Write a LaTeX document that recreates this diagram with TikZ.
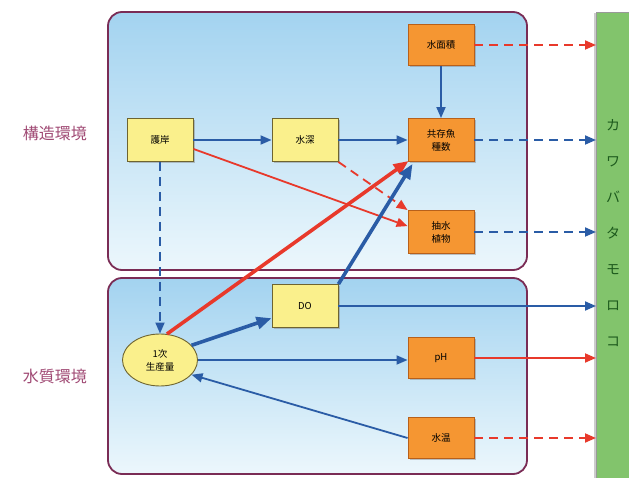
\documentclass[tikz,border=0pt]{standalone}
\usepackage{fontspec}
\setmainfont{Noto Sans CJK JP}
\usetikzlibrary{arrows.meta,shadows,shapes.geometric}

\definecolor{panelline}{HTML}{7A2C55}
\definecolor{paneltop}{HTML}{A3D3F0}
\definecolor{panelbot}{HTML}{ECF7FC}
\definecolor{boxorange}{HTML}{F59632}
\definecolor{lineorange}{HTML}{B8601A}
\definecolor{boxyellow}{HTML}{FAF08C}
\definecolor{lineyellow}{HTML}{6E6430}
\definecolor{arrblue}{HTML}{2A5CA6}
\definecolor{arrred}{HTML}{E8392B}
\definecolor{bargreen}{HTML}{82C46C}
\definecolor{bartext}{HTML}{1D5A1D}
\definecolor{labelpink}{HTML}{A04A74}

\tikzset{
  panel/.style={draw=panelline, line width=1.8pt, rounded corners=14pt,
    top color=paneltop, bottom color=panelbot},
  orangebox/.style={draw=lineorange, fill=boxorange, line width=0.9pt,
    minimum width=66pt, minimum height=43pt, align=center, font=\fontsize{9.5}{13}\selectfont,
    drop shadow={shadow xshift=1.5pt, shadow yshift=-1.5pt, opacity=0.45}},
  yellowbox/.style={orangebox, draw=lineyellow, fill=boxyellow},
  blueline/.style={draw=arrblue, line width=1.8pt, -{Triangle[length=11pt,width=9pt]}},
  redline/.style={draw=arrred, line width=1.8pt, -{Triangle[length=11pt,width=9pt]}},
  thick line/.style={line width=3.6pt, -{Triangle[length=15pt,width=12pt]}},
  dashline/.style={dash pattern=on 9pt off 6pt},
  sectlabel/.style={text=labelpink, font=\fontsize{16}{16}\selectfont}
}

\begin{document}
\begin{tikzpicture}[x=1pt,y=-1pt]
  \useasboundingbox (0,0) rectangle (629,478);

  % panels
  \path[panel] (108,12) rectangle (527,270);
  \path[panel] (108,278) rectangle (527,474);
  \node[sectlabel] (kozo) at (55,133) {構造環境};
  \node[sectlabel] (suishitsu) at (55,376) {水質環境};

  % species bar
  \node[draw=black!40, fill=bargreen, minimum width=33pt, minimum height=466pt,
    inner sep=0pt, drop shadow={shadow xshift=-2pt, shadow yshift=-1pt, opacity=0.4},
    anchor=north west] (bar) at (596,12) {};
  \node[text=bartext, align=center, font=\fontsize{14}{36}\selectfont, anchor=north]
    (barname) at (613,116) {カ\\ワ\\バ\\タ\\モ\\ロ\\コ};

  % factors
  \node[orangebox, minimum height=41pt] (menseki) at (441,45) {水面積};
  \node[orangebox] (kyozon) at (441,140) {共存魚\\種数};
  \node[orangebox] (chusui) at (441,232) {抽水\\植物};
  \node[yellowbox] (gogan) at (160,140) {護岸};
  \node[yellowbox] (suishin) at (305,140) {水深};
  \node[yellowbox] (DO) at (305,306) {DO};
  \node[orangebox, minimum height=41pt] (pH) at (441,358) {pH};
  \node[orangebox, minimum height=41pt] (suion) at (441,438) {水温};
  \node[ellipse, draw=lineyellow, fill=boxyellow, line width=0.9pt, minimum width=75pt,
    minimum height=52pt, inner sep=0pt, align=center, font=\fontsize{9.5}{13}\selectfont]
    (seisan) at (160,360) {1次\\生産量};

  % to the species bar
  \draw[redline, dashline] (menseki.east) -- (menseki.east -| bar.west);
  \draw[blueline, dashline] (kyozon.east) -- (kyozon.east -| bar.west);
  \draw[blueline, dashline] (chusui.east) -- (chusui.east -| bar.west);
  \draw[blueline] (DO.east) -- (DO.east -| bar.west);
  \draw[redline] (pH.east) -- (pH.east -| bar.west);
  \draw[redline, dashline] (suion.east) -- (suion.east -| bar.west);

  % structure
  \draw[blueline] (menseki.south) -- (kyozon.north);
  \draw[blueline] (gogan.east) -- (suishin.west);
  \draw[blueline] (suishin.east) -- (kyozon.west);
  \draw[redline, dashline] (suishin.south east) -- (chusui.north west);
  \draw[redline] (gogan.-15) -- (chusui.170);
  \draw[blueline, dashline] (gogan.south) -- (seisan.north);

  % water quality
  \draw[redline, thick line] (seisan.75) -- ([xshift=1pt,yshift=1pt]kyozon.south west);
  \draw[blueline, thick line] (seisan.25) -- (DO.200);
  \draw[blueline, thick line] (DO.north east) -- ([xshift=5pt,yshift=-2pt]kyozon.south west);
  \draw[blueline] (seisan.east) -- (seisan.east -| pH.west);
  \draw[blueline] (suion.west) -- (seisan.-25);
\end{tikzpicture}
\end{document}
